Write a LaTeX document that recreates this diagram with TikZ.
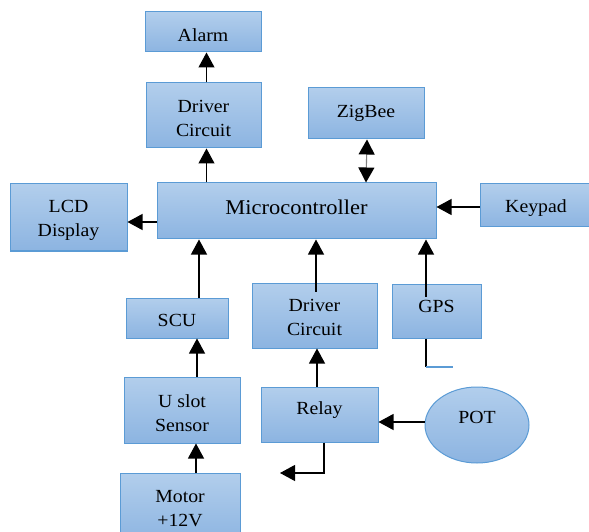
\documentclass[tikz,border=0pt]{standalone}
\usepackage{fontspec}
\setmainfont{Liberation Serif}[FakeStretch=1.07]
\usetikzlibrary{arrows.meta,shapes.geometric}
\definecolor{boxtop}{RGB}{178,206,236}
\definecolor{boxbot}{RGB}{140,180,225}
\definecolor{boxline}{RGB}{91,155,213}
\tikzset{
  blk/.style={draw=boxline, line width=1pt, top color=boxtop, bottom color=boxbot, inner sep=0pt},
  txt/.style={align=center, inner sep=0pt, font=\fontsize{18.5}{24}\selectfont},
  potshape/.style={blk, ellipse},
  arr/.style={line width=1.1pt, -{Triangle[length=15pt,width=16pt]}},
  arrtwo/.style={line width=1.1pt, draw=gray, {Triangle[length=15pt,width=16pt,color=black]}-{Triangle[length=15pt,width=16pt,color=black]}},
  ln/.style={line width=1.1pt}
}
\begin{document}
\begin{tikzpicture}[x=1pt,y=1pt]
\useasboundingbox (0,0) rectangle (589,531);
\clip (0,0) rectangle (589,531);
% boxes (y = 531 - pixel y)
\node[blk, minimum width=116pt, minimum height=40pt] (alarm) at (203,499) {};
\node[blk, minimum width=115pt, minimum height=65pt] (drv1) at (203.5,415.5) {};
\node[blk, minimum width=117pt, minimum height=67pt] (lcd) at (68.5,313.5) {};
\node[blk, minimum width=279pt, minimum height=56pt] (micro) at (296.5,320) {};
\node[blk, minimum width=116pt, minimum height=51pt] (zig) at (366,417.5) {};
\node[blk, minimum width=112pt, minimum height=43pt] (key) at (536,325.5) {};
\node[blk, minimum width=102pt, minimum height=40pt] (scu) at (177,213) {};
\node[blk, minimum width=116pt, minimum height=66pt] (us) at (182,121) {};
\node[blk, minimum width=120pt, minimum height=70pt] (motor) at (180,23) {};
\node[blk, minimum width=125pt, minimum height=65pt] (drv2) at (314.5,215.5) {};
\node[blk, minimum width=117pt, minimum height=55pt] (relay) at (319.5,116.5) {};
\node[blk, minimum width=89pt, minimum height=54pt] (gps) at (436.5,220) {};
\node[potshape, minimum width=104pt, minimum height=76pt] (pot) at (477,106) {};
% texts
\node[txt] (alarmt) at ([yshift=-3pt]alarm.center) {Alarm};
\node[txt] (drv1t) at ([yshift=-2.5pt]drv1.center) {Driver\\Circuit};
\node[txt] (lcdt) at ([yshift=-2.5pt]lcd.center) {LCD\\Display};
\node[txt, font=\fontsize{21}{24}\selectfont] (microt) at ([yshift=4pt]micro.center) {Microcontroller};
\node[txt] (zigt) at ([yshift=0.5pt]zig.center) {ZigBee};
\node[txt] (keyt) at ([yshift=-2.5pt]key.center) {Keypad};
\node[txt] (scut) at ([yshift=-2pt]scu.center) {SCU};
\node[txt] (ust) at ([yshift=-3pt]us.center) {U slot\\Sensor};
\node[txt] (motort) at ([yshift=-1pt]motor.center) {Motor\\+12V};
\node[txt] (drv2t) at ([yshift=-2pt]drv2.center) {Driver\\Circuit};
\node[txt] (relayt) at ([yshift=4.5pt]relay.center) {Relay};
\node[txt] (gpst) at ([yshift=5pt]gps.center) {GPS};
\node[txt] (pott) at ([yshift=8pt]pot.center) {POT};
% connectors
\draw[arr] ([xshift=3pt]drv1.north) -- ([xshift=3pt]drv1.north |- alarm.south);
\draw[arr] ([xshift=3pt]drv1.south |- micro.north) -- ([xshift=3pt]drv1.south);
\draw[arr] ([yshift=-11pt]micro.west) -- ([yshift=-11pt]micro.west -| lcd.east);
\draw[arrtwo] (zig.south |- micro.north) -- ([xshift=1pt]zig.south);
\draw[arr] ([yshift=-1.5pt]key.west) -- ([yshift=-1.5pt]key.west -| micro.east);
\draw[arr] ([xshift=22pt]scu.north) -- ([xshift=22pt]scu.north |- micro.south);
\draw[arr] ([xshift=15pt]us.north) -- ([xshift=15pt]us.north |- scu.south);
\draw[arr] ([xshift=16pt]motor.north) -- ([xshift=16pt]motor.north |- us.south);
\draw[arr] ([xshift=1.5pt,yshift=-9pt]drv2.north) -- ([xshift=1.5pt]drv2.north |- micro.south);
\draw[arr] ([xshift=-2.5pt]relay.north) -- ([xshift=-2.5pt]relay.north |- drv2.south);
\draw[arr] ([xshift=-10.5pt,yshift=-13pt]gps.north) -- ([xshift=-10.5pt]gps.north |- micro.south);
\coordinate (gpsend) at (426,164);
\draw[ln] ([xshift=-10.5pt]gps.south) -- (gpsend);
\coordinate (gpstail) at (453,164);
\draw[line width=1.1pt, boxline] (gpsend) -- (gpstail);
\draw[arr] ([yshift=3pt]pot.west) -- ([yshift=3pt]pot.west -| relay.east);
\coordinate (relcorner) at (324,58);
\coordinate (relend) at (280,58);
\draw[arr] ([xshift=4.5pt]relay.south) -- (relcorner) -- (relend);
\end{tikzpicture}
\end{document}
